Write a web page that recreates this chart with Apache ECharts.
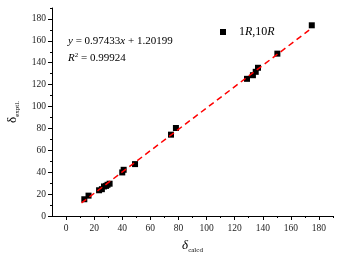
<!DOCTYPE html>
<html>
<head>
<meta charset="utf-8">
<script src="https://cdn.jsdelivr.net/npm/echarts@6/dist/echarts.min.js"></script>
<style>
    html, body { margin: 0; padding: 0; background: #fff; }
    #chart { width: 340px; height: 255px; }
</style>
</head>
<body>
<div id="chart"></div>
<script>
    // 数据（从图上读出来的）
    const calcd = [13.0, 16.0, 23.5, 25.5, 27, 28.5, 29.5, 31, 40, 41, 49.1, 74.7, 78.2, 128.8, 133.0, 135.0, 136.6, 150.4, 174.9];
    const exptl = [15.3, 18.6, 23.5, 24.5, 27, 27.5, 28.5, 29.5, 39.8, 42.2, 47.4, 74.3, 80.4, 125.3, 128.6, 131.7, 135.4, 148.3, 174.2];
    const majorTicks = [0, 20, 40, 60, 80, 100, 120, 140, 160, 180];
    const minorTicks = [10, 30, 50, 70, 90, 110, 130, 150, 170, 190];
    const slope = 0.97433;
    const intercept = 1.20199;
    const fitX = [11, 173];

    const serif = "'Liberation Serif', 'Times New Roman', serif";

    let points = calcd.map((x, i) => [x, exptl[i]]);
    let fitLine = fitX.map((x) => [x, slope * x + intercept]);

    let myChart = echarts.init(document.getElementById('chart'));

    function mainAxis(isX) {
        return {
            type: 'value',
            min: isX ? -10 : 0,
            max: 190,
            splitLine: { show: false },
            axisLine: { show: true, onZero: false, lineStyle: { color: '#000', width: 1 } },
            axisTick: {
                show: true, inside: false, length: 4,
                customValues: majorTicks,
                lineStyle: { color: '#000' }
            },
            axisLabel: {
                customValues: majorTicks,
                color: '#222',
                fontFamily: serif,
                fontSize: 9.5,
                margin: isX ? 7 : 6
            }
        };
    }

    // 次刻度单独用一根看不见的轴画
    function minorAxis(isX) {
        return {
            type: 'value',
            min: isX ? -10 : 0,
            max: 190,
            position: isX ? 'bottom' : 'left',
            splitLine: { show: false },
            axisLine: { show: false, onZero: false },
            axisTick: {
                show: true, inside: false, length: 2,
                customValues: minorTicks,
                lineStyle: { color: '#000' }
            },
            axisLabel: { show: false }
        };
    }

    let xMain = mainAxis(true);
    xMain.name = '{d|δ}{s|calcd}';
    xMain.nameLocation = 'middle';
    xMain.nameGap = 22;
    xMain.nameTextStyle = {
        rich: {
            d: { fontFamily: serif, fontSize: 13, color: '#000', fontStyle: 'italic' },
            s: { fontFamily: serif, fontSize: 7, color: '#000', padding: [9, 0, 0, 0] }
        }
    };

    let yMain = mainAxis(false);
    yMain.name = '{d|δ}{s|exptl.}';
    yMain.nameLocation = 'middle';
    yMain.nameGap = 30;
    yMain.nameTextStyle = {
        rich: {
            d: { fontFamily: serif, fontSize: 13, color: '#000' },
            s: { fontFamily: serif, fontSize: 7, color: '#000', padding: [9, 0, 0, 0] }
        }
    };

    let option = {
        animation: false,
        grid: { left: 52, right: 7, top: 8, bottom: 39, outerBoundsMode: 'none' },
        xAxis: [xMain, minorAxis(true)],
        yAxis: [yMain, minorAxis(false)],
        legend: {
            left: 215,
            top: 21,
            itemWidth: 6,
            itemHeight: 6,
            itemGap: 4,
            data: [{ name: '1R,10R', icon: 'rect', itemStyle: { opacity: 1 } }],
            formatter: () => '{n|1}{i|R}{n|,10}{i|R}',
            textStyle: {
                padding: [0, 0, 0, 8],
                rich: {
                    n: { fontFamily: serif, fontSize: 12, color: '#000' },
                    i: { fontFamily: serif, fontSize: 12, color: '#000', fontStyle: 'italic' }
                }
            }
        },
        graphic: [
            {
                type: 'text',
                left: 68,
                top: 36,
                style: {
                    text: '{i|y}{n| = 0.97433}{i|x}{n| + 1.20199}',
                    rich: {
                        n: { fontFamily: serif, fontSize: 11, fill: '#000' },
                        i: { fontFamily: serif, fontSize: 11, fill: '#000', fontStyle: 'italic' }
                    }
                }
            },
            {
                type: 'text',
                left: 68,
                top: 52,
                style: {
                    text: '{i|R}{sup|2}{n| = 0.99924}',
                    rich: {
                        n: { fontFamily: serif, fontSize: 11, fill: '#000' },
                        i: { fontFamily: serif, fontSize: 11, fill: '#000', fontStyle: 'italic' },
                        sup: { fontFamily: serif, fontSize: 7, fill: '#000', padding: [0, 0, 6, 0] }
                    }
                }
            }
        ],
        series: [
            {
                name: 'fit',
                type: 'line',
                data: fitLine,
                symbol: 'none',
                z: 3,
                lineStyle: { color: '#ff0000', width: 1.5, type: [6, 4] }
            },
            {
                name: '1R,10R',
                type: 'scatter',
                data: points,
                symbol: 'rect',
                symbolSize: 6,
                z: 2,
                itemStyle: { color: '#000', opacity: 1 }
            }
        ]
    };
    // 使用刚指定的配置项和数据显示图表。
    myChart.setOption(option);
</script>
</body>
</html>
